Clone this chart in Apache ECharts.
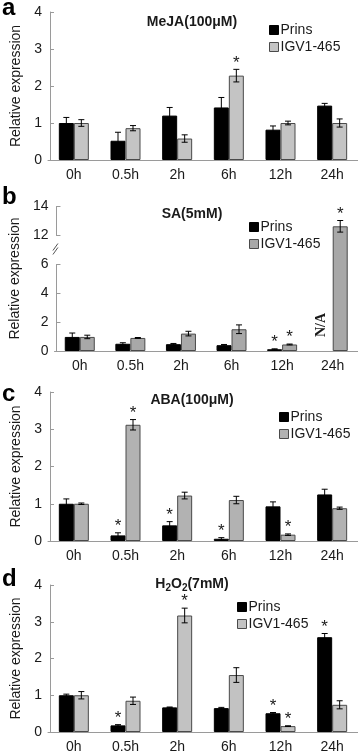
<!DOCTYPE html>
<html>
<head>
<meta charset="utf-8">
<script src="https://cdn.jsdelivr.net/npm/echarts@6/dist/echarts.min.js"></script>
<style>
  html, body { margin: 0; padding: 0; background: #fff; }
  #chart { width: 358px; height: 754px; }
</style>
</head>
<body>
<div id="chart"></div>
<script>
const categories = ['0h', '0.5h', '2h', '6h', '12h', '24h'];
const panelLetters = ['a', 'b', 'c', 'd'];
const panelTitles = ['MeJA(100μM)', 'SA(5mM)', 'ABA(100μM)', 'H{s|2}O{s|2}(7mM)'];

// a: MeJA
const prinsA = [1.0, 0.52, 1.2, 1.42, 0.82, 1.47];
const prinsErrA = [0.15, 0.23, 0.22, 0.27, 0.1, 0.06];
const igvA = [1.0, 0.86, 0.58, 2.28, 1.0, 1.0];
const igvErrA = [0.09, 0.07, 0.1, 0.17, 0.05, 0.11];
const starPrinsA = [0, 0, 0, 0, 0, 0];
const starIgvA = [0, 0, 0, 1, 0, 0];

// b: SA (Prins 24h not available)
const prinsB = [0.97, 0.5, 0.47, 0.4, 0.12, null];
const prinsErrB = [0.27, 0.07, 0.05, 0.05, 0.03, 0];
const igvB = [0.97, 0.9, 1.2, 1.5, 0.45, 12.6];
const igvErrB = [0.12, 0.03, 0.16, 0.3, 0.03, 0.4];
const starPrinsB = [0, 0, 0, 0, 1, 0];
const starIgvB = [0, 0, 0, 0, 1, 1];

// c: ABA
const prinsC = [1.0, 0.15, 0.42, 0.06, 0.93, 1.25];
const prinsErrC = [0.13, 0.07, 0.1, 0.03, 0.12, 0.14];
const igvC = [1.0, 3.12, 1.22, 1.1, 0.17, 0.88];
const igvErrC = [0.02, 0.14, 0.09, 0.1, 0.02, 0.03];
const starPrinsC = [0, 1, 1, 1, 0, 0];
const starIgvC = [0, 1, 0, 0, 1, 0];

// d: H2O2
const prinsD = [1.0, 0.18, 0.67, 0.65, 0.51, 2.58];
const prinsErrD = [0.03, 0.02, 0.01, 0.02, 0.02, 0.1];
const igvD = [1.0, 0.85, 3.17, 1.55, 0.16, 0.74];
const igvErrD = [0.1, 0.1, 0.2, 0.2, 0.01, 0.11];
const starPrinsD = [0, 1, 0, 0, 1, 1];
const starIgvD = [0, 0, 1, 0, 1, 0];

const panels = [
  { prins: prinsA, prinsErr: prinsErrA, igv: igvA, igvErr: igvErrA, sp: starPrinsA, si: starIgvA },
  { prins: prinsB, prinsErr: prinsErrB, igv: igvB, igvErr: igvErrB, sp: starPrinsB, si: starIgvB },
  { prins: prinsC, prinsErr: prinsErrC, igv: igvC, igvErr: igvErrC, sp: starPrinsC, si: starIgvC },
  { prins: prinsD, prinsErr: prinsErrD, igv: igvD, igvErr: igvErrD, sp: starPrinsD, si: starIgvD }
];

// y-axis break in panel b
const breakStart = 6;
const breakEnd = 12;

const FONT = 'Liberation Sans, Arial, sans-serif';
const TXT = '#1a1a1a';
const AXIS = '#9a9a9a';
const BAR_W = 15;
const grayFills = ['#c4c4c4', '#a8a8a8', '#b2b2b2', '#c2c2c2'];
const gridTops = [12, 206, 392, 585];
const gridHeights = [148, 145, 149, 147];
const titleTops = [15, 207, 393, 575];
const letterTops = [-4, 185, 382, 567];
const legendPos = [[269, 23], [249, 220], [279, 410], [237, 600]];

function errorBars(offset) {
  return function (params, api) {
    const idx = api.value(0);
    const v = api.value(1);
    const e = api.value(2);
    const star = api.value(3);
    const na = api.value(4);
    const base = api.coord([idx, 0]);
    const x = base[0] + offset;
    const children = [];
    if (na) {
      children.push({
        type: 'text',
        x: x - 4, y: base[1] - 26, rotation: Math.PI / 2,
        style: { text: 'N/A', font: 'bold 14px "Liberation Serif", "Times New Roman", serif',
          fill: TXT, align: 'center', verticalAlign: 'middle' }
      });
      return { type: 'group', children };
    }
    const top = api.coord([idx, v + e])[1];
    const bot = api.coord([idx, v - e])[1];
    if (e > 0) {
      const s = { stroke: '#000', lineWidth: 1 };
      children.push({ type: 'line', shape: { x1: x, y1: top, x2: x, y2: bot }, style: s });
      children.push({ type: 'line', shape: { x1: x - 3, y1: top, x2: x + 3, y2: top }, style: s });
      children.push({ type: 'line', shape: { x1: x - 3, y1: bot, x2: x + 3, y2: bot }, style: s });
    }
    if (star) {
      children.push({
        type: 'text', x: x, y: top + 2,
        style: { text: '*', font: '17px ' + FONT, fill: TXT, align: 'center', verticalAlign: 'bottom' }
      });
    }
    return { type: 'group', children };
  };
}

const grids = [], xAxes = [], yAxes = [], series = [], titles = [], legends = [];

panels.forEach((p, i) => {
  grids.push({ left: 48, width: 310, top: gridTops[i], height: gridHeights[i] });
  xAxes.push({
    type: 'category', gridIndex: i, data: categories,
    axisLine: { lineStyle: { color: AXIS } },
    axisTick: { inside: true, length: 4, lineStyle: { color: AXIS } },
    axisLabel: { color: TXT, fontSize: 14, fontFamily: FONT, margin: 8 }
  });
  const y = {
    type: 'value', gridIndex: i, min: 0, max: i === 1 ? 14 : 4, interval: i === 1 ? 2 : 1,
    offset: -2,
    name: 'Relative expression', nameLocation: 'middle', nameGap: 18,
    nameTextStyle: { color: TXT, fontSize: 14, fontFamily: FONT },
    axisLine: { show: true, lineStyle: { color: AXIS } },
    axisTick: { show: true, inside: true, length: 4, lineStyle: { color: AXIS } },
    axisLabel: { color: TXT, fontSize: 14, fontFamily: FONT, margin: 8 },
    splitLine: { show: false }
  };
  if (i === 1) {
    y.breaks = [{ start: breakStart, end: breakEnd, gap: '20%' }];
    y.breakArea = { show: false };
  }
  yAxes.push(y);

  series.push({
    name: 'Prins', type: 'bar', xAxisIndex: i, yAxisIndex: i,
    data: p.prins, barWidth: BAR_W, barGap: '0%',
    itemStyle: { color: '#000', borderColor: '#000', borderWidth: 1 }
  });
  series.push({
    name: 'IGV1-465', type: 'bar', xAxisIndex: i, yAxisIndex: i,
    data: p.igv, barWidth: BAR_W, barGap: '0%',
    itemStyle: { color: grayFills[i], borderColor: '#4a4a4a', borderWidth: 1 }
  });
  series.push({
    type: 'custom', xAxisIndex: i, yAxisIndex: i, z: 5, silent: true,
    renderItem: errorBars(-BAR_W / 2),
    data: p.prins.map((v, k) => [k, v == null ? 0 : v, p.prinsErr[k], p.sp[k], v == null ? 1 : 0])
  });
  series.push({
    type: 'custom', xAxisIndex: i, yAxisIndex: i, z: 5, silent: true,
    renderItem: errorBars(BAR_W / 2),
    data: p.igv.map((v, k) => [k, v, p.igvErr[k], p.si[k], 0])
  });

  titles.push({
    text: panelLetters[i], left: 2, top: letterTops[i], padding: 0,
    textStyle: { fontSize: 24, fontWeight: 'bold', fontFamily: FONT, color: '#000' }
  });
  titles.push({
    text: panelTitles[i], left: 192, top: titleTops[i], padding: 0, textAlign: 'center',
    textStyle: {
      fontSize: 14, fontWeight: 'bold', fontFamily: FONT, color: TXT,
      rich: { s: { fontSize: 10, fontWeight: 'bold', fontFamily: FONT, color: TXT, padding: [8, 0, 0, 0] } }
    }
  });
  legends.push({
    orient: 'vertical', left: legendPos[i][0], top: legendPos[i][1], padding: 0,
    itemWidth: 9, itemHeight: 9, itemGap: 3, icon: 'rect',
    textStyle: { color: TXT, fontSize: 14, fontFamily: FONT, padding: [0, 0, 0, -3] },
    data: [
      { name: 'Prins', itemStyle: { color: '#000', borderColor: '#000', borderWidth: 1 } },
      { name: 'IGV1-465', itemStyle: { color: grayFills[i], borderColor: '#4a4a4a', borderWidth: 1 } }
    ]
  });
});

const chart = echarts.init(document.getElementById('chart'), null, { renderer: 'canvas' });
chart.setOption({
  animation: false,
  title: titles,
  legend: legends,
  grid: grids,
  xAxis: xAxes,
  yAxis: yAxes,
  series: series
});

// break mark "//" on the panel b axis, halfway between the break ends
const yLo = chart.convertToPixel({ yAxisIndex: 1 }, breakStart);
const yHi = chart.convertToPixel({ yAxisIndex: 1 }, breakEnd);
const xAx = chart.convertToPixel({ xAxisIndex: 1 }, 0) - 51.67 / 2 + 2;
const yMid = (yLo + yHi) / 2;
chart.setOption({
  graphic: [
    { type: 'rect', shape: { x: xAx - 2, y: yMid - 5, width: 4, height: 10 }, style: { fill: '#fff' }, z: 10 },
    { type: 'line', shape: { x1: xAx - 3, y1: yMid + 1, x2: xAx + 2, y2: yMid - 6 }, style: { stroke: '#555', lineWidth: 1 }, z: 11 },
    { type: 'line', shape: { x1: xAx - 3, y1: yMid + 5, x2: xAx + 2, y2: yMid - 2 }, style: { stroke: '#555', lineWidth: 1 }, z: 11 }
  ]
});
</script>
</body>
</html>
